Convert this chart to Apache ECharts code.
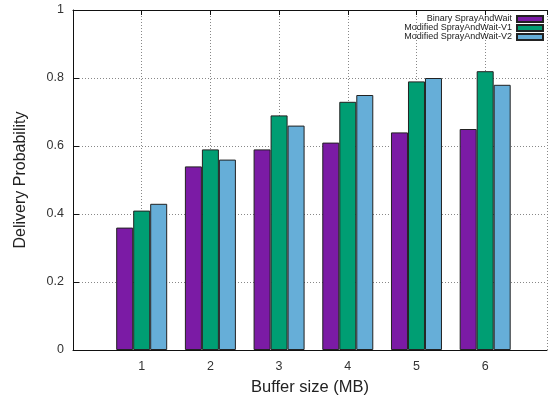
<!DOCTYPE html>
<html>
<head>
<meta charset="utf-8">
<script src="https://cdn.jsdelivr.net/npm/echarts@6/dist/echarts.min.js"></script>
<style>html,body{margin:0;padding:0;background:#fff}#c{width:550px;height:401px}</style>
</head>
<body>
<div id="c"></div>
<script>
const categories = [1, 2, 3, 4, 5, 6];
const seriesNames = ['Binary SprayAndWait', 'Modified SprayAndWait-V1', 'Modified SprayAndWait-V2'];
const binary = [0.36, 0.54, 0.59, 0.61, 0.64, 0.65];
const v1 = [0.41, 0.59, 0.69, 0.73, 0.79, 0.82];
const v2 = [0.43, 0.56, 0.66, 0.75, 0.80, 0.78];
const yTicks = [0, 0.2, 0.4, 0.6, 0.8, 1];
const colors = ['#7b1ba5', '#009e73', '#66aed8'];

const chart = echarts.init(document.getElementById('c'), null, {renderer: 'canvas'});
const font = 'Liberation Sans, Arial, sans-serif';
const grid = {left: 73, right: 0, top: 10, bottom: 49, containLabel: false};
const dotted = {show: true, lineStyle: {color: '#888', type: [1, 2], width: 1}};

function mk(name, vals, i) {
  return {
    name: name, type: 'bar', barWidth: 17, barGap: '0%',
    data: vals.map((v, k) => [categories[k], v]),
    itemStyle: {color: colors[i], borderColor: '#222', borderWidth: 1},
    emphasis: {disabled: true}, z: 3
  };
}

chart.setOption({
  animation: false,
  textStyle: {fontFamily: font},
  grid: grid,
  legend: {
    orient: 'vertical', right: 6, top: 14.5, align: 'right',
    itemWidth: 26, itemHeight: 6, itemGap: 0, padding: 0,
    textStyle: {fontSize: 9, lineHeight: 9, color: '#222', fontFamily: font},
    data: seriesNames.map(n => ({name: n, icon: 'rect'}))
  },
  xAxis: [{
    type: 'value', min: 0, max: 6.9, interval: 1, position: 'bottom',
    name: 'Buffer size (MB)', nameLocation: 'middle', nameGap: 29,
    nameTextStyle: {fontSize: 16.5, color: '#222', fontFamily: font},
    axisLine: {show: true, onZero: false, lineStyle: {color: '#111', width: 1}},
    axisTick: {show: false},
    axisLabel: {color: '#333', fontSize: 12.5, margin: 10, fontFamily: font,
      formatter: v => categories.indexOf(v) >= 0 ? String(v) : ''},
    splitLine: dotted
  }, {
    type: 'value', min: 0, max: 6.9, interval: 1, position: 'top',
    axisLine: {show: true, onZero: false, lineStyle: {color: '#111', width: 1}},
    axisTick: {show: true, inside: true, length: 5, lineStyle: {color: '#111'}},
    axisLabel: {show: false}, splitLine: {show: false}
  }],
  yAxis: {
    type: 'value', min: 0, max: 1, interval: 0.2,
    name: 'Delivery Probability', nameLocation: 'middle', nameGap: 44,
    nameTextStyle: {fontSize: 16, color: '#222', fontFamily: font},
    axisLine: {show: true, lineStyle: {color: '#111', width: 1}},
    axisTick: {show: true, inside: true, length: 6, lineStyle: {color: '#111'}},
    axisLabel: {color: '#333', fontSize: 12.5, margin: 9, fontFamily: font,
      formatter: v => yTicks.indexOf(Math.round(v * 10) / 10) >= 0 ? String(Math.round(v * 10) / 10) : ''},
    splitLine: dotted
  },
  series: [mk(seriesNames[0], binary, 0), mk(seriesNames[1], v1, 1), mk(seriesNames[2], v2, 2)]
});
</script>
</body>
</html>
